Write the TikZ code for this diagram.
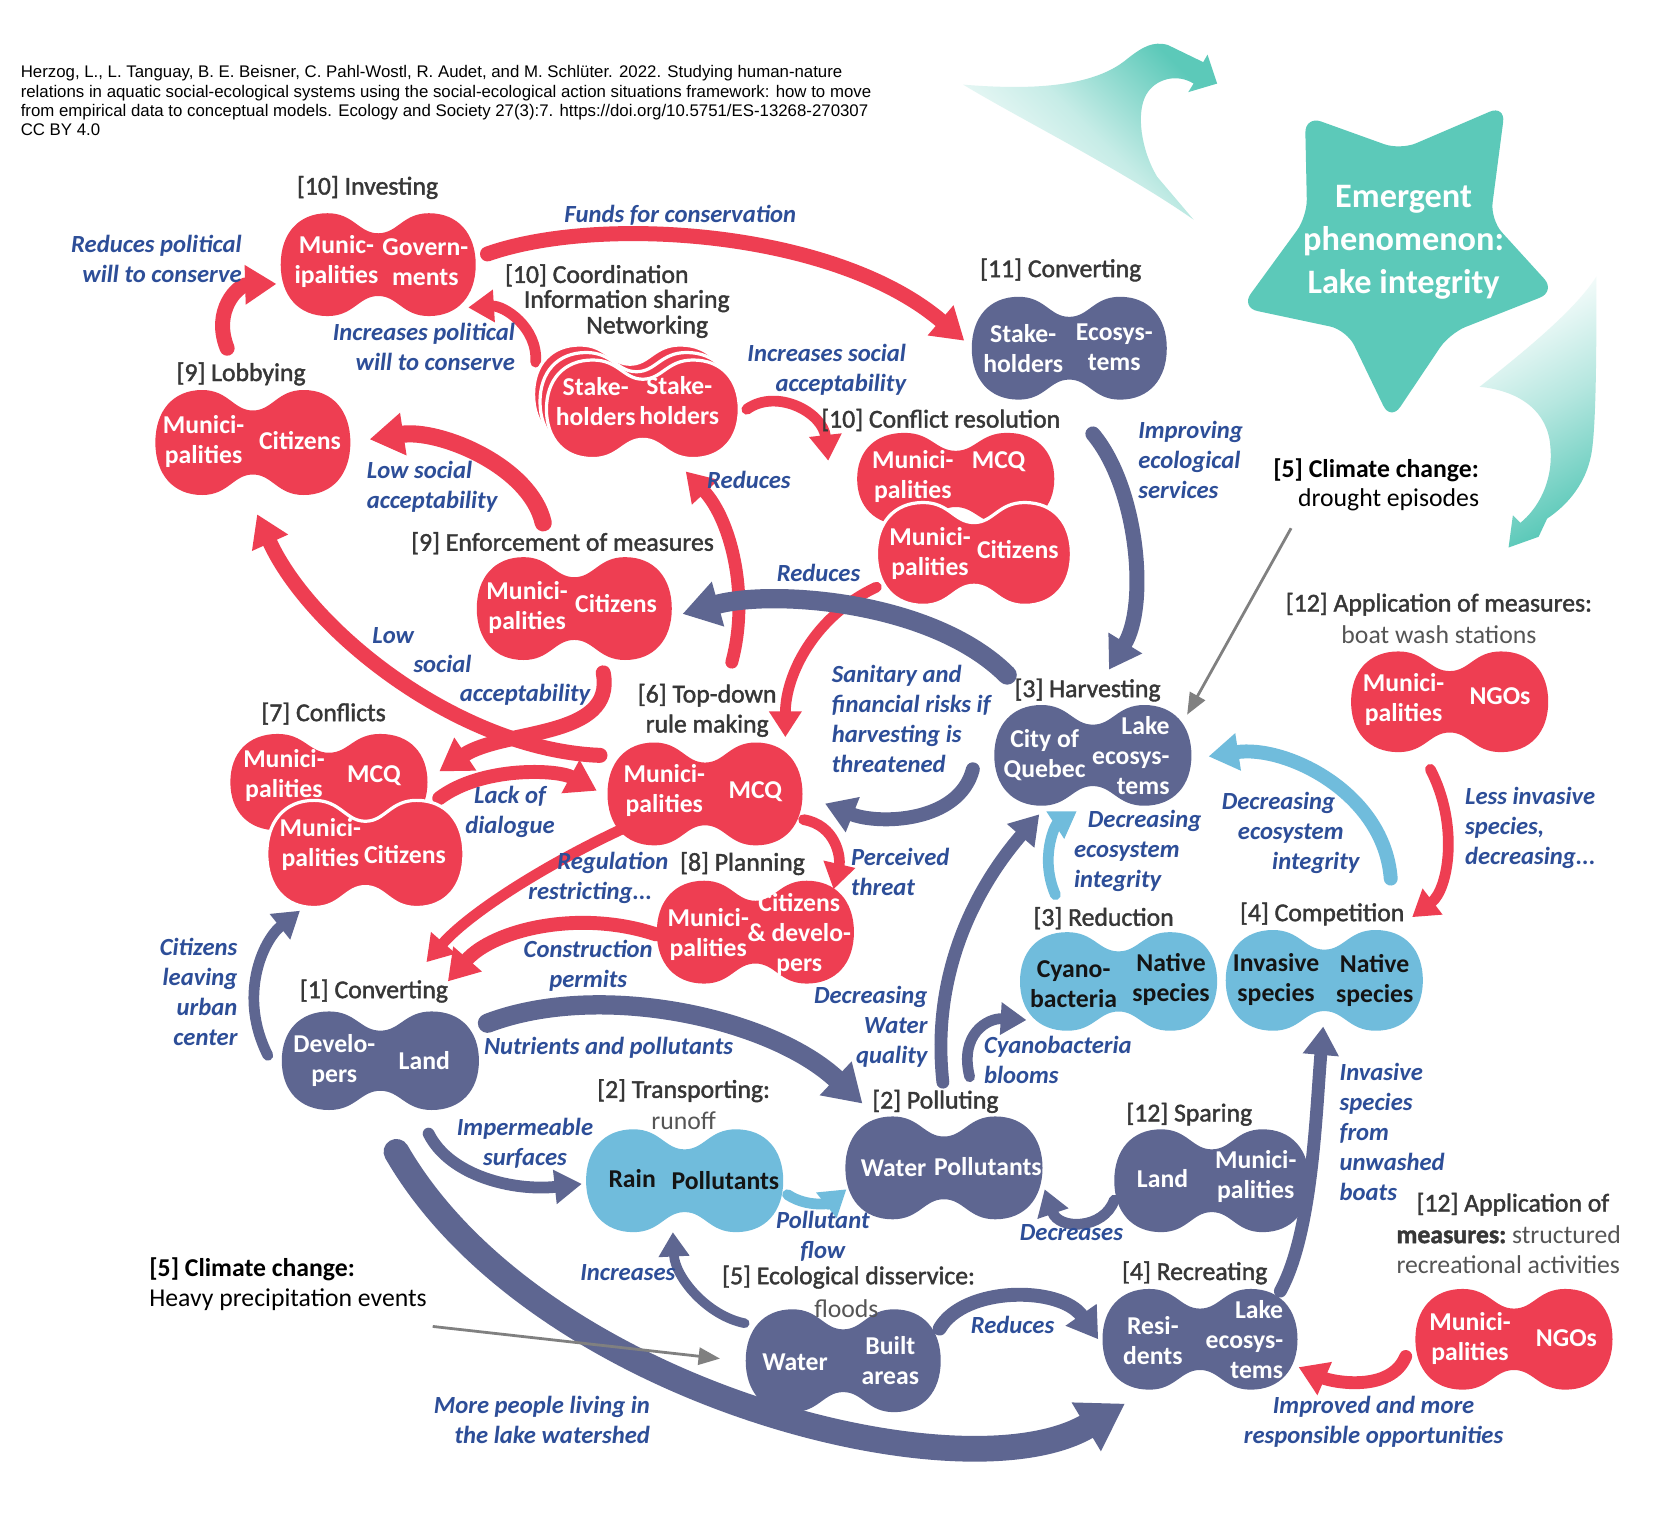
\documentclass[tikz,border=0pt]{standalone}
\usepackage{fontspec}
\setmainfont{Carlito}
\newfontfamily\citefont{Liberation Sans}
\newfontfamily\labfont[FakeBold=1.6]{Carlito}
\usetikzlibrary{arrows.meta,shapes.geometric}
\pgfdeclarelayer{bglayer}
\pgfdeclarelayer{connlayer}
\pgfsetlayers{bglayer,connlayer,main}
\definecolor{cred}{RGB}{238,62,82}
\definecolor{cnavy}{RGB}{94,102,145}
\definecolor{clight}{RGB}{112,188,220}
\definecolor{cteal}{RGB}{92,201,185}
\definecolor{cblue}{RGB}{45,78,152}
\definecolor{cgray}{RGB}{55,55,55}
\definecolor{lgray}{RGB}{85,85,85}
\definecolor{garrow}{RGB}{128,128,128}
\tikzset{
  bt/.style={font=\bfseries\fontsize{12}{14}\selectfont, text=white, align=center, inner sep=0pt},
  btd/.style={bt, text=black!92},
  alab/.style={font=\labfont\fontsize{12}{14}\selectfont, text=cgray, inner sep=0pt, align=center},
  plab/.style={font=\fontsize{12}{14}\selectfont, text=lgray, inner sep=0pt, align=center},
  clab/.style={font=\bfseries\itshape\fontsize{11.5}{14}\selectfont, text=cblue, inner sep=0pt, align=center},
  conn/.style={line cap=round, -{Triangle[length=5.5pt 1.3, width=7pt 1.5]}},
  grayconn/.style={draw=garrow, line width=1.3pt, -{Triangle[length=10pt, width=8pt]}},
  redfill/.style={fill=cred},
  navyfill/.style={fill=cnavy},
  lightfill/.style={fill=clight},
  frontred/.style={fill=cred, draw=white, line width=1.5pt}
}
\newcommand\peanut[6]{%
  \path[#2,shift={(#3,#4)}] (0,-0.61*#6)
    .. controls (0.2*#5,-0.61*#6) and (0.25*#5,-#6) .. (0.52*#5,-#6)
    .. controls (0.82*#5,-#6) and (#5,-0.6*#6) .. (#5,0)
    .. controls (#5,0.6*#6) and (0.82*#5,#6) .. (0.52*#5,#6)
    .. controls (0.25*#5,#6) and (0.2*#5,0.61*#6) .. (0,0.61*#6)
    .. controls (-0.2*#5,0.61*#6) and (-0.25*#5,#6) .. (-0.52*#5,#6)
    .. controls (-0.82*#5,#6) and (-#5,0.6*#6) .. (-#5,0)
    .. controls (-#5,-0.6*#6) and (-0.82*#5,-#6) .. (-0.52*#5,-#6)
    .. controls (-0.25*#5,-#6) and (-0.2*#5,-0.61*#6) .. cycle;
  \node[ellipse,inner sep=0pt,minimum width=#5pt,minimum height=#6pt] (#1) at (#3,#4) {};}
\begin{document}
\begin{tikzpicture}[x=0.5pt,y=-0.5pt]
\begin{pgfonlayer}{bglayer}
\path[use as bounding box, fill=white] (0,0) rectangle (1568,1424);
\end{pgfonlayer}

% citation
\node[anchor=north west, align=left, inner sep=0pt, font=\citefont\fontsize{7.85}{9}\selectfont] (cite) at (19,61)
 {Herzog, L., L. Tanguay, B. E. Beisner, C. Pahl-Wostl, R. Audet, and M. Schlüter. 2022. Studying human-nature\\
  relations in aquatic social-ecological systems using the social-ecological action situations framework: how to move\\
  from empirical data to conceptual models. Ecology and Society 27(3):7. https://doi.org/10.5751/ES-13268-270307\\
  CC BY 4.0};

% teal emergent arrows and star
\shade[top color=cteal, bottom color=white, middle color=cteal!35, shading angle=-45]
  (899,79) .. controls (960,84) and (1020,82) .. (1052,55)
  .. controls (1066,44) and (1076,38) .. (1090,42) -- (1123,58) -- (1127,51) -- (1136,78) -- (1109,86) -- (1114,78)
  .. controls (1098,68) and (1078,74) .. (1070,88) .. controls (1060,105) and (1065,140) .. (1080,165)
  -- (1114,205) .. controls (1050,160) and (950,110) .. (899,79) -- cycle;
\shade[top color=white, bottom color=cteal, middle color=cteal!45, shading angle=30]
  (1490,258) .. controls (1490,320) and (1490,400) .. (1485,425)
  .. controls (1480,450) and (1465,470) .. (1444,484) -- (1436,501) -- (1408,511) -- (1412,481) -- (1419,488)
  .. controls (1435,475) and (1450,450) .. (1447,417) .. controls (1445,385) and (1420,365) .. (1381,361)
  .. controls (1420,330) and (1470,290) .. (1490,258) -- cycle;
\fill[cteal, rounded corners=8pt] (1218,108) -- (1307,140) -- (1405,98) -- (1391,205) -- (1452,272)
  -- (1353,311) -- (1298,393) -- (1257,308) -- (1158,287) -- (1220,202) -- cycle;
\node[font=\bfseries\fontsize{16}{20}\selectfont, text=white, align=center, inner sep=0pt] (star) at (1310,226)
  {Emergent\\phenomenon:\\Lake integrity};

% blobs
\peanut{inv}{redfill}{353}{247}{91}{48}
\peanut{lob}{redfill}{236}{413}{91}{49}
\peanut{coordbb}{frontred}{588}{368}{90}{46}
\peanut{coordba}{frontred}{594}{375}{90}{46}
\peanut{coord}{frontred}{600}{382}{90}{46}
\peanut{cone}{navyfill}{998}{325}{91}{48}
\peanut{cra}{redfill}{892}{447}{92}{43}
\peanut{crb}{frontred}{909}{517}{91}{48}
\peanut{enf}{redfill}{536}{568}{91}{48}
\peanut{cfa}{redfill}{307}{730}{92}{45}
\peanut{cfb}{frontred}{341}{797}{92}{50}
\peanut{topd}{redfill}{658}{741}{91}{48}
\peanut{plan}{redfill}{705}{870}{92}{48}
\peanut{conv}{navyfill}{355}{990}{92}{46}
\peanut{trans}{lightfill}{639}{1102}{92}{48}
\peanut{poll}{navyfill}{881}{1090}{92}{48}
\peanut{spar}{navyfill}{1131}{1102}{91}{48}
\peanut{harv}{navyfill}{1020}{705}{92}{47}
\peanut{redu}{lightfill}{1044}{916}{92}{46}
\peanut{comp}{lightfill}{1236}{915}{92}{47}
\peanut{boat}{redfill}{1353}{655}{92}{47}
\peanut{recr}{navyfill}{1120}{1250}{91}{47}
\peanut{strc}{redfill}{1413}{1250}{92}{47}
\peanut{dis}{navyfill}{787}{1270}{91}{48}

% blob texts
\node[bt] (invL) at (314,244) {Munic-\\ipalities};
\node[bt] (invR) at (397,245) {Govern-\\ments};
\node[bt] (lobL) at (190,412) {Munici-\\palities};
\node[bt] (lobR) at (280,411) {Citizens};
\node[bt] (coordL) at (556,375) {Stake-\\holders};
\node[bt] (coordR) at (634,374) {Stake-\\holders};
\node[bt] (coneL) at (955,325) {Stake-\\holders};
\node[bt] (coneR) at (1040,324) {Ecosys-\\tems};
\node[bt] (craL) at (852,445) {Munici-\\palities};
\node[bt] (craR) at (932,431) {MCQ};
\node[bt] (crbL) at (868,517) {Munici-\\palities};
\node[bt] (crbR) at (950,513) {Citizens};
\node[bt] (enfL) at (492,567) {Munici-\\palities};
\node[bt] (enfR) at (575,563) {Citizens};
\node[bt] (cfaL) at (265,724) {Munici-\\palities};
\node[bt] (cfaR) at (349,724) {MCQ};
\node[bt] (cfbL) at (299,788) {Munici-\\palities};
\node[bt] (cfbR) at (378,798) {Citizens};
\node[bt] (topdL) at (620,738) {Munici-\\palities};
\node[bt] (topdR) at (705,739) {MCQ};
\node[bt] (planL) at (661,872) {Munici-\\palities};
\node[bt] (planR) at (746,872) {Citizens\\\& develo-\\pers};
\node[bt] (convL) at (312,990) {Develo-\\pers};
\node[bt] (convR) at (396,990) {Land};
\node[btd] (transL) at (590,1100) {Rain};
\node[btd] (transR) at (677,1102) {Pollutants};
\node[bt] (pollL) at (834,1090) {Water};
\node[bt] (pollR) at (922,1089) {Pollutants};
\node[bt] (sparL) at (1085,1100) {Land};
\node[bt] (sparR) at (1172,1098) {Munici-\\palities};
\node[bt] (harvL) at (975,705) {City of\\Quebec};
\node[bt, align=right, anchor=east] (harvR) at (1092,705) {Lake\\ecosys-\\tems};
\node[btd] (reduL) at (1002,919) {Cyano-\\bacteria};
\node[btd] (reduR) at (1093,914) {Native\\species};
\node[btd] (compL) at (1191,914) {Invasive\\species};
\node[btd] (compR) at (1283,915) {Native\\species};
\node[bt] (boatL) at (1310,653) {Munici-\\palities};
\node[bt] (boatR) at (1400,650) {NGOs};
\node[bt] (recrL) at (1076,1251) {Resi-\\dents};
\node[bt, align=right, anchor=east] (recrR) at (1198,1250) {Lake\\ecosys-\\tems};
\node[bt] (strcL) at (1372,1249) {Munici-\\palities};
\node[bt] (strcR) at (1462,1249) {NGOs};
\node[bt] (disL) at (742,1271) {Water};
\node[bt] (disR) at (831,1270) {Built\\areas};

% action situation labels
\node[alab] (linv) at (343,175) {[10] Investing};
\node[alab] (lcoa) at (557,257) {[10] Coordination};
\node[alab] (lcob) at (585,281) {Information sharing};
\node[alab] (lcoc) at (604,305) {Networking};
\node[alab] (lcone) at (990,252) {[11] Converting};
\node[alab] (llob) at (225,349) {[9] Lobbying};
\node[alab] (lcr) at (878,392) {[10] Conflict resolution};
\node[alab] (lenf) at (525,507) {[9] Enforcement of measures};
\node[alab] (lcf) at (302,666) {[7] Conflicts};
\node[alab] (ltopd) at (660,663) {[6] Top-down\\rule making};
\node[alab] (lharv) at (1015,644) {[3] Harvesting};
\node[alab] (lplan) at (693,806) {[8] Planning};
\node[alab] (lredu) at (1030,857) {[3] Reduction};
\node[alab] (lcomp) at (1234,853) {[4] Competition};
\node[alab] (lconv) at (349,925) {[1] Converting};
\node[alab] (ltrans) at (638,1018) {[2] Transporting:};
\node[plab] (ltransb) at (638,1046) {runoff};
\node[alab] (lpoll) at (873,1028) {[2] Polluting};
\node[alab] (lspar) at (1110,1040) {[12] Sparing};
\node[alab] (lrecr) at (1115,1188) {[4] Recreating};
\node[alab] (ldis) at (792,1192) {[5] Ecological disservice:};
\node[plab] (ldisb) at (790,1221) {floods};
\node[alab] (lboat) at (1343,564) {[12] Application of measures:};
\node[plab] (lboatb) at (1343,592) {boat wash stations};
\node[alab] (lstrca) at (1412,1124) {[12] Application of};
\node[alab, anchor=west] (lstrcb) at (1303,1152) {{\bfseries measures:}~{\color{lgray}\normalfont\fontsize{12}{14}\selectfont structured}};
\node[plab, anchor=west] (lstrcc) at (1303,1180) {recreational activities};
\node[alab, anchor=west, text=black, font=\bfseries\fontsize{12}{14}\selectfont] (ccra) at (1188,439) {[5] Climate change:};
\node[plab, text=black] (ccrb) at (1296,466) {drought episodes};
\node[alab, anchor=west, text=black, font=\bfseries\fontsize{12}{14}\selectfont] (ccla) at (139,1185) {[5] Climate change:};
\node[plab, anchor=west, text=black] (cclb) at (139,1213) {Heavy precipitation events};

% connector labels
\node[clab] (tfunds) at (635,201) {Funds for conservation};
\node[clab, anchor=east, align=right] (trpol) at (226,242) {Reduces political\\will to conserve};
\node[clab, anchor=east, align=right] (tipol) at (481,324) {Increases political\\will to conserve};
\node[clab, anchor=east, align=right] (tisoc) at (846,345) {Increases social\\acceptability};
\node[clab, anchor=west, align=left] (tlsoc) at (342,454) {Low social\\acceptability};
\node[clab] (tred1) at (699,448) {Reduces};
\node[clab] (tlowa) at (367,593) {Low};
\node[clab] (tlowb) at (413,620) {social};
\node[clab] (tlowc) at (490,648) {acceptability};
\node[clab, anchor=west, align=left] (timp) at (1062,429) {Improving\\ecological\\services};
\node[clab] (tred2) at (764,535) {Reduces};
\node[clab, anchor=west, align=left] (tsan) at (776,671) {Sanitary and\\financial risks if\\harvesting is\\threatened};
\node[clab] (tlack) at (476,758) {Lack of\\dialogue};
\node[clab] (trega) at (572,805) {Regulation};
\node[clab] (tregb) at (551,833) {restricting...};
\node[clab, anchor=west, align=left] (tperc) at (794,814) {Perceived\\threat};
\node[clab, anchor=east, align=right] (tcit) at (222,926) {Citizens\\leaving\\urban\\center};
\node[clab] (tcons) at (549,901) {Construction\\permits};
\node[clab, anchor=east, align=right] (tdwq) at (866,958) {Decreasing\\Water\\quality};
\node[clab, anchor=west, align=left] (tcyan) at (918,989) {Cyanobacteria\\blooms};
\node[clab, anchor=west, align=left] (tdei1) at (1002,794) {\hspace*{6.5pt}Decreasing\\ecosystem\\integrity};
\node[clab, anchor=west, align=left] (tdei2) at (1140,777) {Decreasing\\\hspace*{7.5pt}ecosystem\\\hspace*{23.5pt}integrity};
\node[clab, anchor=west, align=left] (tless) at (1367,773) {Less invasive\\species,\\decreasing...};
\node[clab] (tnut) at (568,978) {Nutrients and pollutants};
\node[clab] (timpm) at (490,1067) {Impermeable\\surfaces};
\node[clab] (tpflow) at (768,1154) {Pollutant\\flow};
\node[clab] (tdecr) at (1000,1150) {Decreases};
\node[clab, anchor=west, align=left] (tinv) at (1250,1056) {Invasive\\species\\from\\unwashed\\boats};
\node[clab] (tincr) at (586,1188) {Increases};
\node[clab] (tred3) at (945,1237) {Reduces};
\node[clab, anchor=east, align=right] (tmore) at (607,1325) {More people living in\\the lake watershed};
\node[clab] (timpr) at (1282,1327) {Improved and more\\responsible opportunities};

% connectors
\begin{pgfonlayer}{connlayer}
% red
\draw[conn, cred, line width=7pt] ([shift={(102,-10)}]inv.center) .. controls +(105,-37) and +(-120,-103) .. ([shift={(-98,-7)}]cone.center);
\draw[conn, cred, line width=7pt] ([shift={(-24,-88)}]lob.center) .. controls +(-14,-35) and +(-36,1) .. ([shift={(-95,18)}]inv.center);
\draw[conn, cred, line width=5pt] ([shift={(-100,-44)}]coord.center) .. controls +(2,-33) and +(33,-2) .. ([shift={(84,40)}]inv.center);
\draw[conn, cred, line width=5pt] ([shift={(97,0)}]coord.center) .. controls +(28,-20) and +(-5,-45) .. ([shift={(-119,-17)}]cra.center);
\draw[conn, cred, line width=8pt] ([shift={(-29,-80)}]enf.center) .. controls +(-12,-53) and +(65,-10) .. ([shift={(109,-3)}]lob.center);
\draw[conn, cred, line width=6pt] ([shift={(25,-123)}]topd.center) .. controls +(17,-63) and +(42,45) .. ([shift={(40,58)}]coord.center);
\draw[conn, cred, line width=7pt] ([shift={(-98,-36)}]topd.center) .. controls +(-130,-5) and +(50,110) .. ([shift={(4,67)}]lob.center);
\draw[conn, cred, line width=7pt] ([shift={(27,60)}]enf.center) .. controls +(12,62) and +(60,-40) .. ([shift={(103,-10)}]cfa.center);
\draw[conn, cred, line width=6.5pt] ([shift={(103,15)}]cfa.center) .. controls +(40,-30) and +(-37,-20) .. ([shift={(-101,-3)}]topd.center);
\draw[conn, cred, line width=5pt] ([shift={(-91,31)}]crb.center) .. controls +(-58,27) and +(0,-58) .. ([shift={(75,-53)}]topd.center);
\draw[conn, cred, line width=5pt] ([shift={(-58,24)}]topd.center) .. controls +(-80,35) and +(42,-48) .. ([shift={(43,-92)}]conv.center);
\draw[conn, cred, line width=5pt] ([shift={(92,24)}]topd.center) .. controls +(30,5) and +(7,-30) .. ([shift={(73,-40)}]plan.center);
\draw[conn, cred, line width=6.5pt] ([shift={(-93,2)}]plan.center) .. controls +(-72,-24) and +(42,-48) .. ([shift={(63,-74)}]conv.center);
\draw[conn, cred, line width=5pt] ([shift={(-18,63)}]boat.center) .. controls +(27,52) and +(34,-26) .. ([shift={(82,-59)}]comp.center);
\draw[conn, cred, line width=6pt] ([shift={(-101,16)}]strc.center) .. controls +(-14,34) and +(32,14) .. ([shift={(92,26)}]recr.center);
% navy
\draw[conn, cnavy, line width=7pt] ([shift={(22,80)}]cone.center) .. controls +(42,50) and +(37,-60) .. ([shift={(15,-80)}]harv.center);
\draw[conn, cnavy, line width=9pt] ([shift={(-80,-75)}]harv.center) .. controls +(-70,-70) and +(83,-23) .. ([shift={(101,5)}]enf.center);
\draw[conn, cnavy, line width=6.5pt] ([shift={(-112,13)}]harv.center) .. controls +(-13,50) and +(50,20) .. ([shift={(112,9)}]topd.center);
\draw[conn, cnavy, line width=5pt] ([shift={(-105,-5)}]conv.center) .. controls +(-28,-55) and +(-35,28) .. ([shift={(-61,53)}]cfb.center);
\draw[conn, cnavy, line width=9pt] ([shift={(100,-35)}]conv.center) .. controls +(105,-40) and +(-85,-80) .. ([shift={(-76,-60)}]poll.center);
\draw[conn, cnavy, line width=5.5pt] ([shift={(45,68)}]conv.center) .. controls +(20,40) and +(-63,7) .. ([shift={(-96,3)}]trans.center);
\draw[conn, cnavy, line width=12pt] ([shift={(15,85)}]conv.center) .. controls +(130,225) and +(-150,90) .. ([shift={(-70,60)}]recr.center);
\draw[conn, cnavy, line width=6pt] ([shift={(-1,-80)}]poll.center) .. controls +(-12,-110) and +(-52,60) .. ([shift={(-50,55)}]harv.center);
\draw[conn, cnavy, line width=5pt] ([shift={(24,-85)}]poll.center) .. controls +(-10,-40) and +(-36,-2) .. ([shift={(-86,36)}]redu.center);
\draw[conn, cnavy, line width=5pt] ([shift={(-91,18)}]spar.center) .. controls +(-10,28) and +(13,38) .. ([shift={(94,20)}]poll.center);
\draw[conn, cnavy, line width=4.5pt] ([shift={(-92,-35)}]dis.center) .. controls +(-35,-7) and +(2,42) .. ([shift={(-11,48)}]trans.center);
\draw[conn, cnavy, line width=6.5pt] ([shift={(90,-30)}]dis.center) .. controls +(23,-40) and +(-35,-50) .. ([shift={(-95,0)}]recr.center);
\draw[conn, cnavy, line width=6pt] ([shift={(75,-45)}]recr.center) .. controls +(30,-55) and +(-7,82) .. ([shift={(-1,43)}]comp.center);
% light blue
\draw[conn, clight, line width=5pt] ([shift={(-59,-81)}]redu.center) .. controls +(-15,-35) and +(-20,13) .. ([shift={(-15,52)}]harv.center);
\draw[conn, clight, line width=6.5pt] ([shift={(62,-95)}]comp.center) .. controls +(-6,-80) and +(72,-11) .. ([shift={(108,1)}]harv.center);
\draw[conn, clight, line width=5pt] ([shift={(96,13)}]trans.center) .. controls +(20,13) and +(-15,12) .. ([shift={(-91,20)}]poll.center);
% gray climate arrows
\draw[grayconn] ([shift={(-91,27)}]ccrb.center) -- ([shift={(88,-38)}]harv.center);
\draw[grayconn] ([shift={(135,25)}]cclb.center) -- ([shift={(-115,-2)}]dis.center);
\end{pgfonlayer}
\end{tikzpicture}
\end{document}
